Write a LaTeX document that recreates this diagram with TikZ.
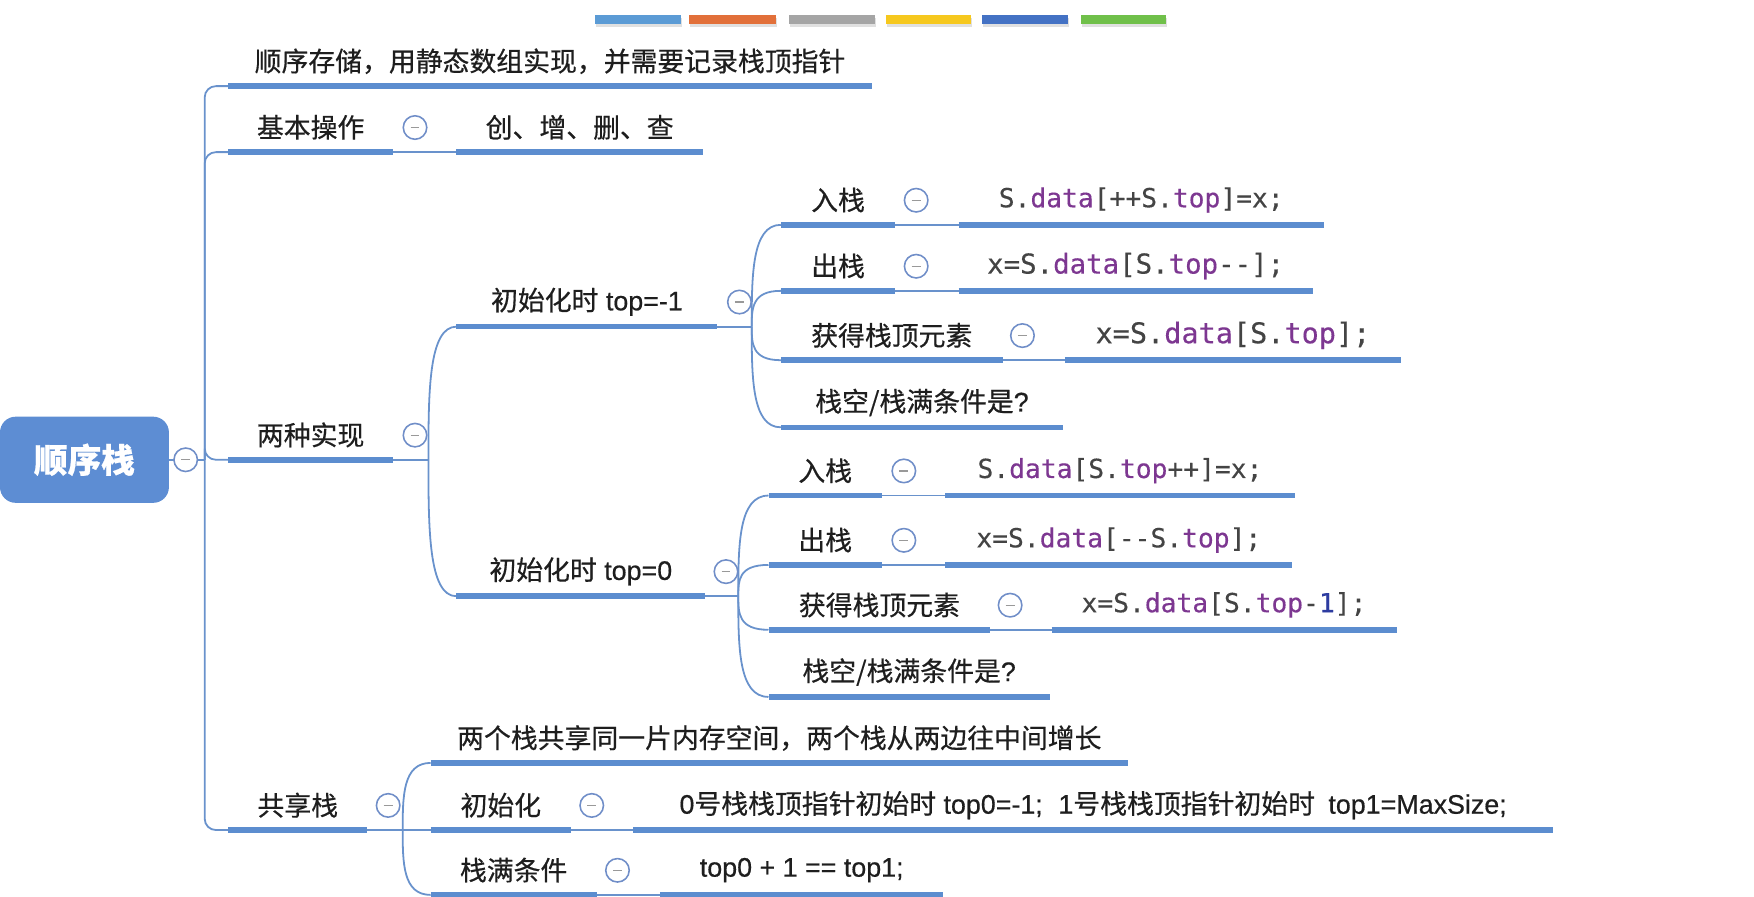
\documentclass[tikz,border=0pt]{standalone}
\usepackage{fontspec}
\setmainfont{Noto Sans CJK SC}[FakeBold=0.5]
\newfontfamily\codefont{DejaVu Sans Mono}[FakeBold=0.3]
\newfontfamily\latfont{Liberation Sans}[FakeBold=0.5]
\usetikzlibrary{calc}
\definecolor{barblue}{RGB}{92,141,207}
\definecolor{linkblue}{RGB}{105,146,204}
\definecolor{rootblue}{RGB}{93,141,211}
\definecolor{togblue}{RGB}{112,142,200}
\definecolor{txt}{RGB}{30,30,30}
\definecolor{codegray}{RGB}{68,68,68}
\definecolor{codepurple}{RGB}{125,55,145}
\definecolor{codenum}{RGB}{45,60,160}
\definecolor{cbA}{RGB}{91,155,213}
\definecolor{cbB}{RGB}{226,112,58}
\definecolor{cbC}{RGB}{165,165,165}
\definecolor{cbD}{RGB}{246,200,30}
\definecolor{cbE}{RGB}{68,114,196}
\definecolor{cbF}{RGB}{112,192,74}
\newcommand\kw[1]{\textcolor{codepurple}{#1}}
\newcommand\nm[1]{\textcolor{codenum}{#1}}
\newcommand\lt[1]{{\latfont #1}}
\newcommand\brc[2]{\draw[conn] (#1) .. controls ($(#1)!0.5!(#1|-#2.south west)$) and (#1|-#2.south west) .. (#2.south west);}
\pgfdeclarelayer{bg}
\pgfsetlayers{bg,main}
\begin{document}
\begin{tikzpicture}[x=1pt, y=-1pt,
  topic/.style={anchor=south west, inner sep=0pt, minimum height=44pt, text=txt, font=\fontsize{24}{28}\selectfont},
  code/.style={topic, font=\codefont\fontsize{23.5}{27}\selectfont, text=codegray},
  rootbox/.style={fill=rootblue, rounded corners=14pt, minimum width=151pt, minimum height=77pt, inner sep=0pt, text=white, font=\bfseries\fontsize{30}{34}\selectfont},
  bar/.style={draw=barblue, line width=5pt},
  conn/.style={draw=linkblue, line width=1.6pt},
  tog/.style={circle, draw=togblue, line width=1.4pt, fill=white, minimum size=21pt, inner sep=0pt,
    path picture={\draw[gray!80, line width=1.1pt] ([xshift=-4pt]path picture bounding box.center) -- ([xshift=4pt]path picture bounding box.center);}}
]
\useasboundingbox (0,0) rectangle (1568,801);
% colour strip
\foreach \a/\b/\c in {532/609/cbA, 616/694/cbB, 705/782/cbC, 792/868/cbD, 878/955/cbE, 966/1042/cbF} {
  \fill[black!12] (\a+1,16) rectangle (\b+1,24.5);
  \fill[\c] (\a,13.5) rectangle (\b,21.5);
}
% root
\node[rootbox] (root) at (75.5,411) {顺序栈};
\node[tog] (g0) at (166,411) {};
\coordinate (T) at (183,411);
% level 1
\node[topic, minimum width=575pt] (t1) at (204,77) {顺序存储，用静态数组实现，并需要记录栈顶指针};
\node[topic, minimum width=147pt] (t2) at (204,136) {基本操作};
\node[tog] (g2) at (371,114) {};
\node[topic, minimum width=220pt] (c2) at (408,136) {创、增、删、查};
\node[topic, minimum width=147pt] (t3) at (204,411) {两种实现};
\node[tog] (g3) at (371,389) {};
\coordinate (J3) at (383,411);
% top = -1
\node[topic, minimum width=233pt] (a1) at (408,292) {初始化时\lt{ top=-1}};
\node[tog] (ga1) at (661,270) {};
\coordinate (Ja1) at (672,292);
\node[topic, minimum width=102pt] (a1a) at (698,201) {入栈};
\node[tog] (ga1a) at (819,179) {};
\node[code, minimum width=326pt] (k1a) at (857,201) {S.\kw{data}[++S.\kw{top}]=x;};
\node[topic, minimum width=102pt] (a1b) at (698,260) {出栈};
\node[tog] (ga1b) at (819,238) {};
\node[code, minimum width=316pt, font=\codefont\fontsize{24.5}{28}\selectfont] (k1b) at (857,260) {x=S.\kw{data}[S.\kw{top}-{}-];};
\node[topic, minimum width=198pt] (a1c) at (698,322) {获得栈顶元素};
\node[tog] (ga1c) at (914,300) {};
\node[code, minimum width=300pt, font=\codefont\fontsize{25.5}{29}\selectfont] (k1c) at (952,322) {x=S.\kw{data}[S.\kw{top}];};
\node[topic, minimum width=252pt] (a1d) at (698,382) {栈空/栈满条件是\lt{?}};
% top = 0
\node[topic, minimum width=222pt] (a2) at (408,533) {初始化时\lt{ top=0}};
\node[tog] (ga2) at (649,511) {};
\coordinate (Ja2) at (660,533);
\node[topic, minimum width=101pt] (a2a) at (687,443) {入栈};
\node[tog] (ga2a) at (808,421) {};
\node[code, minimum width=312pt] (k2a) at (845,443) {S.\kw{data}[S.\kw{top}++]=x;};
\node[topic, minimum width=101pt] (a2b) at (687,505) {出栈};
\node[tog] (ga2b) at (808,483) {};
\node[code, minimum width=310pt] (k2b) at (845,505) {x=S.\kw{data}[-{}-S.\kw{top}];};
\node[topic, minimum width=198pt] (a2c) at (687,563) {获得栈顶元素};
\node[tog] (ga2c) at (903,541) {};
\node[code, minimum width=308pt] (k2c) at (940,563) {x=S.\kw{data}[S.\kw{top}-\nm{1}];};
\node[topic, minimum width=251pt] (a2d) at (687,623) {栈空/栈满条件是\lt{?}};
% shared stack
\node[topic, minimum width=124pt] (t4) at (204,742) {共享栈};
\node[tog] (g4) at (347,720) {};
\coordinate (J4) at (360,742);
\node[topic, minimum width=623pt] (s1) at (385,682) {两个栈共享同一片内存空间，两个栈从两边往中间增长};
\node[topic, minimum width=125pt] (s2) at (385,742) {初始化};
\node[tog] (gs2) at (529,720) {};
\node[topic, minimum width=822pt] (s2k) at (566,742) {\lt{0}号栈栈顶指针初始时\lt{ top0=-1;}\hspace{14pt}\lt{1}号栈栈顶指针初始时\hspace{12pt}\lt{top1=MaxSize;}};
\node[topic, minimum width=148pt] (s3) at (385,800) {栈满条件};
\node[tog] (gs3) at (552,778) {};
\node[topic, minimum width=253pt] (s3k) at (590,800) {\lt{top0 + 1 == top1;}};
% connectors and bars
\begin{pgfonlayer}{bg}
\draw[conn] (root.east) -- (T);
\foreach \c in {t1,t2,t3,t4} \draw[conn, rounded corners=10pt] (T) |- (\c.south west);
\draw[conn] (t2.south east) -- (c2.south west);
\draw[conn] (t3.south east) -- (J3);
\brc{J3}{a1} \brc{J3}{a2}
\draw[conn] (a1.south east) -- (Ja1);
\brc{Ja1}{a1a} \brc{Ja1}{a1b} \brc{Ja1}{a1c} \brc{Ja1}{a1d}
\draw[conn] (a2.south east) -- (Ja2);
\brc{Ja2}{a2a} \brc{Ja2}{a2b} \brc{Ja2}{a2c} \brc{Ja2}{a2d}
\draw[conn] (a1a.south east) -- (k1a.south west);
\draw[conn] (a1b.south east) -- (k1b.south west);
\draw[conn] (a1c.south east) -- (k1c.south west);
\draw[conn] (a2a.south east) -- (k2a.south west);
\draw[conn] (a2b.south east) -- (k2b.south west);
\draw[conn] (a2c.south east) -- (k2c.south west);
\draw[conn] (t4.south east) -- (J4);
\brc{J4}{s1} \brc{J4}{s2} \brc{J4}{s3}
\draw[conn] (s2.south east) -- (s2k.south west);
\draw[conn] (s3.south east) -- (s3k.south west);
\foreach \n in {t1,t2,c2,t3,a1,a1a,k1a,a1b,k1b,a1c,k1c,a1d,a2,a2a,k2a,a2b,k2b,a2c,k2c,a2d,t4,s1,s2,s2k,s3,s3k}
  \draw[bar] (\n.south west) -- (\n.south east);
\end{pgfonlayer}
\end{tikzpicture}
\end{document}
